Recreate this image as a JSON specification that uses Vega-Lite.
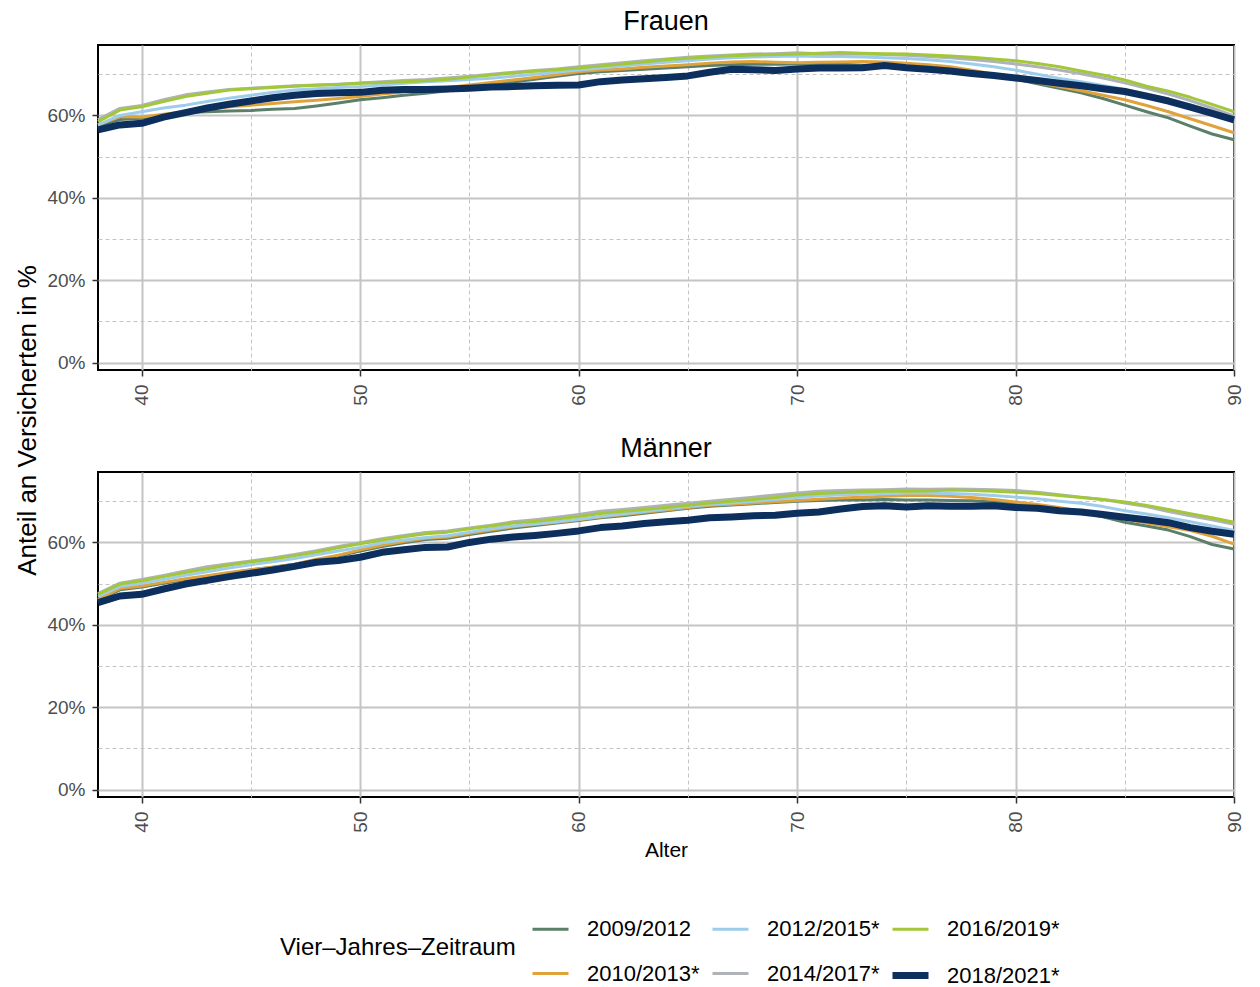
{
  "$schema": "https://vega.github.io/schema/vega-lite/v6.json",
  "padding": {"left": 13, "top": 7, "right": 20, "bottom": 4},
  "bounds": "flush",
  "spacing": 102,
  "config": {
    "font": "Liberation Sans",
    "view": {"stroke": "black", "strokeWidth": 2},
    "axis": {"gridColor": "#C4C4C4", "labelColor": "#4D4D4D", "labelFontSize": 19, "tickColor": "#333333", "tickSize": 6, "tickWidth": 1.5, "domain": false, "titleColor": "black", "titleFontWeight": "normal", "labelOverlap": false, "labelFlush": false}
  },
  "data": {"values": [
{"g":"Frauen","Alter":38,"2009/2012":57.3,"2010/2013*":57.7,"2012/2015*":57.7,"2014/2017*":59.0,"2016/2019*":58.5,"2018/2021*":56.5},
{"g":"Frauen","Alter":39,"2009/2012":59.0,"2010/2013*":59.7,"2012/2015*":60.0,"2014/2017*":61.7,"2016/2019*":61.3,"2018/2021*":57.7},
{"g":"Frauen","Alter":40,"2009/2012":59.3,"2010/2013*":59.6,"2012/2015*":60.9,"2014/2017*":62.4,"2016/2019*":62.1,"2018/2021*":58.1},
{"g":"Frauen","Alter":41,"2009/2012":60.1,"2010/2013*":60.3,"2012/2015*":61.8,"2014/2017*":63.8,"2016/2019*":63.4,"2018/2021*":59.6},
{"g":"Frauen","Alter":42,"2009/2012":60.7,"2010/2013*":60.9,"2012/2015*":62.5,"2014/2017*":65.0,"2016/2019*":64.6,"2018/2021*":60.7},
{"g":"Frauen","Alter":43,"2009/2012":60.9,"2010/2013*":61.5,"2012/2015*":63.4,"2014/2017*":65.7,"2016/2019*":65.4,"2018/2021*":61.8},
{"g":"Frauen","Alter":44,"2009/2012":61.1,"2010/2013*":62.1,"2012/2015*":64.2,"2014/2017*":66.3,"2016/2019*":66.2,"2018/2021*":62.7},
{"g":"Frauen","Alter":45,"2009/2012":61.2,"2010/2013*":62.5,"2012/2015*":64.9,"2014/2017*":66.6,"2016/2019*":66.5,"2018/2021*":63.5},
{"g":"Frauen","Alter":46,"2009/2012":61.5,"2010/2013*":62.9,"2012/2015*":65.6,"2014/2017*":66.9,"2016/2019*":66.8,"2018/2021*":64.3},
{"g":"Frauen","Alter":47,"2009/2012":61.7,"2010/2013*":63.3,"2012/2015*":66.2,"2014/2017*":67.2,"2016/2019*":67.1,"2018/2021*":64.9},
{"g":"Frauen","Alter":48,"2009/2012":62.3,"2010/2013*":63.7,"2012/2015*":66.5,"2014/2017*":67.4,"2016/2019*":67.3,"2018/2021*":65.3},
{"g":"Frauen","Alter":49,"2009/2012":63.0,"2010/2013*":64.1,"2012/2015*":66.8,"2014/2017*":67.6,"2016/2019*":67.5,"2018/2021*":65.5},
{"g":"Frauen","Alter":50,"2009/2012":63.8,"2010/2013*":64.6,"2012/2015*":67.0,"2014/2017*":67.9,"2016/2019*":67.8,"2018/2021*":65.6},
{"g":"Frauen","Alter":51,"2009/2012":64.3,"2010/2013*":65.2,"2012/2015*":67.4,"2014/2017*":68.2,"2016/2019*":68.0,"2018/2021*":66.1},
{"g":"Frauen","Alter":52,"2009/2012":64.9,"2010/2013*":65.7,"2012/2015*":67.8,"2014/2017*":68.5,"2016/2019*":68.2,"2018/2021*":66.3},
{"g":"Frauen","Alter":53,"2009/2012":65.4,"2010/2013*":66.2,"2012/2015*":68.2,"2014/2017*":68.7,"2016/2019*":68.4,"2018/2021*":66.3},
{"g":"Frauen","Alter":54,"2009/2012":66.0,"2010/2013*":66.8,"2012/2015*":68.4,"2014/2017*":69.1,"2016/2019*":68.8,"2018/2021*":66.4},
{"g":"Frauen","Alter":55,"2009/2012":66.7,"2010/2013*":67.4,"2012/2015*":68.7,"2014/2017*":69.5,"2016/2019*":69.3,"2018/2021*":66.6},
{"g":"Frauen","Alter":56,"2009/2012":67.4,"2010/2013*":68.0,"2012/2015*":69.0,"2014/2017*":70.0,"2016/2019*":69.8,"2018/2021*":66.9},
{"g":"Frauen","Alter":57,"2009/2012":68.1,"2010/2013*":68.6,"2012/2015*":69.5,"2014/2017*":70.5,"2016/2019*":70.3,"2018/2021*":67.0},
{"g":"Frauen","Alter":58,"2009/2012":68.8,"2010/2013*":69.2,"2012/2015*":70.0,"2014/2017*":70.9,"2016/2019*":70.7,"2018/2021*":67.2},
{"g":"Frauen","Alter":59,"2009/2012":69.5,"2010/2013*":69.9,"2012/2015*":70.5,"2014/2017*":71.3,"2016/2019*":71.1,"2018/2021*":67.3},
{"g":"Frauen","Alter":60,"2009/2012":70.2,"2010/2013*":70.6,"2012/2015*":71.0,"2014/2017*":71.8,"2016/2019*":71.5,"2018/2021*":67.4},
{"g":"Frauen","Alter":61,"2009/2012":70.6,"2010/2013*":71.0,"2012/2015*":71.5,"2014/2017*":72.3,"2016/2019*":72.0,"2018/2021*":68.2},
{"g":"Frauen","Alter":62,"2009/2012":70.9,"2010/2013*":71.3,"2012/2015*":72.0,"2014/2017*":72.8,"2016/2019*":72.5,"2018/2021*":68.6},
{"g":"Frauen","Alter":63,"2009/2012":71.2,"2010/2013*":71.7,"2012/2015*":72.5,"2014/2017*":73.3,"2016/2019*":73.0,"2018/2021*":68.9},
{"g":"Frauen","Alter":64,"2009/2012":71.5,"2010/2013*":72.0,"2012/2015*":72.9,"2014/2017*":73.7,"2016/2019*":73.5,"2018/2021*":69.2},
{"g":"Frauen","Alter":65,"2009/2012":71.8,"2010/2013*":72.3,"2012/2015*":73.3,"2014/2017*":74.1,"2016/2019*":73.9,"2018/2021*":69.6},
{"g":"Frauen","Alter":66,"2009/2012":72.1,"2010/2013*":72.7,"2012/2015*":73.7,"2014/2017*":74.4,"2016/2019*":74.2,"2018/2021*":70.5},
{"g":"Frauen","Alter":67,"2009/2012":72.3,"2010/2013*":73.0,"2012/2015*":74.0,"2014/2017*":74.7,"2016/2019*":74.5,"2018/2021*":71.2},
{"g":"Frauen","Alter":68,"2009/2012":72.4,"2010/2013*":73.1,"2012/2015*":74.2,"2014/2017*":74.9,"2016/2019*":74.7,"2018/2021*":71.1},
{"g":"Frauen","Alter":69,"2009/2012":72.4,"2010/2013*":72.9,"2012/2015*":74.3,"2014/2017*":75.0,"2016/2019*":74.8,"2018/2021*":70.9},
{"g":"Frauen","Alter":70,"2009/2012":72.5,"2010/2013*":72.8,"2012/2015*":74.4,"2014/2017*":75.2,"2016/2019*":74.9,"2018/2021*":71.3},
{"g":"Frauen","Alter":71,"2009/2012":72.5,"2010/2013*":72.9,"2012/2015*":74.3,"2014/2017*":75.0,"2016/2019*":75.1,"2018/2021*":71.5},
{"g":"Frauen","Alter":72,"2009/2012":72.4,"2010/2013*":73.0,"2012/2015*":74.3,"2014/2017*":75.0,"2016/2019*":75.3,"2018/2021*":71.5},
{"g":"Frauen","Alter":73,"2009/2012":72.2,"2010/2013*":73.1,"2012/2015*":74.2,"2014/2017*":74.9,"2016/2019*":75.1,"2018/2021*":71.6},
{"g":"Frauen","Alter":74,"2009/2012":72.0,"2010/2013*":73.0,"2012/2015*":74.0,"2014/2017*":74.8,"2016/2019*":75.0,"2018/2021*":72.1},
{"g":"Frauen","Alter":75,"2009/2012":71.7,"2010/2013*":72.7,"2012/2015*":73.8,"2014/2017*":74.6,"2016/2019*":74.9,"2018/2021*":71.6},
{"g":"Frauen","Alter":76,"2009/2012":71.3,"2010/2013*":72.3,"2012/2015*":73.5,"2014/2017*":74.3,"2016/2019*":74.7,"2018/2021*":71.2},
{"g":"Frauen","Alter":77,"2009/2012":70.9,"2010/2013*":71.8,"2012/2015*":73.1,"2014/2017*":74.0,"2016/2019*":74.4,"2018/2021*":70.8},
{"g":"Frauen","Alter":78,"2009/2012":70.3,"2010/2013*":71.0,"2012/2015*":72.5,"2014/2017*":73.6,"2016/2019*":74.1,"2018/2021*":70.2},
{"g":"Frauen","Alter":79,"2009/2012":69.6,"2010/2013*":70.0,"2012/2015*":71.8,"2014/2017*":73.1,"2016/2019*":73.7,"2018/2021*":69.7},
{"g":"Frauen","Alter":80,"2009/2012":68.8,"2010/2013*":69.0,"2012/2015*":71.0,"2014/2017*":72.5,"2016/2019*":73.3,"2018/2021*":69.1},
{"g":"Frauen","Alter":81,"2009/2012":67.7,"2010/2013*":68.0,"2012/2015*":70.0,"2014/2017*":71.8,"2016/2019*":72.6,"2018/2021*":68.5},
{"g":"Frauen","Alter":82,"2009/2012":66.6,"2010/2013*":67.0,"2012/2015*":69.0,"2014/2017*":71.0,"2016/2019*":71.8,"2018/2021*":67.8},
{"g":"Frauen","Alter":83,"2009/2012":65.5,"2010/2013*":66.0,"2012/2015*":68.2,"2014/2017*":70.1,"2016/2019*":70.8,"2018/2021*":67.2},
{"g":"Frauen","Alter":84,"2009/2012":64.1,"2010/2013*":64.9,"2012/2015*":67.3,"2014/2017*":69.1,"2016/2019*":69.8,"2018/2021*":66.5},
{"g":"Frauen","Alter":85,"2009/2012":62.5,"2010/2013*":63.8,"2012/2015*":66.3,"2014/2017*":67.9,"2016/2019*":68.6,"2018/2021*":65.8},
{"g":"Frauen","Alter":86,"2009/2012":60.9,"2010/2013*":62.4,"2012/2015*":65.2,"2014/2017*":66.6,"2016/2019*":67.1,"2018/2021*":64.7},
{"g":"Frauen","Alter":87,"2009/2012":59.4,"2010/2013*":60.9,"2012/2015*":64.0,"2014/2017*":65.2,"2016/2019*":65.9,"2018/2021*":63.5},
{"g":"Frauen","Alter":88,"2009/2012":57.4,"2010/2013*":59.2,"2012/2015*":62.6,"2014/2017*":63.6,"2016/2019*":64.4,"2018/2021*":62.0},
{"g":"Frauen","Alter":89,"2009/2012":55.5,"2010/2013*":57.5,"2012/2015*":61.0,"2014/2017*":61.8,"2016/2019*":62.7,"2018/2021*":60.5},
{"g":"Frauen","Alter":90,"2009/2012":54.1,"2010/2013*":55.8,"2012/2015*":59.4,"2014/2017*":59.9,"2016/2019*":60.9,"2018/2021*":58.9},
{"g":"Männer","Alter":38,"2009/2012":46.0,"2010/2013*":46.2,"2012/2015*":46.9,"2014/2017*":47.6,"2016/2019*":47.4,"2018/2021*":45.4},
{"g":"Männer","Alter":39,"2009/2012":48.5,"2010/2013*":48.8,"2012/2015*":49.3,"2014/2017*":50.1,"2016/2019*":49.9,"2018/2021*":47.0},
{"g":"Männer","Alter":40,"2009/2012":49.2,"2010/2013*":49.4,"2012/2015*":50.1,"2014/2017*":51.0,"2016/2019*":50.7,"2018/2021*":47.4},
{"g":"Männer","Alter":41,"2009/2012":50.1,"2010/2013*":50.3,"2012/2015*":51.0,"2014/2017*":52.0,"2016/2019*":51.7,"2018/2021*":48.7},
{"g":"Männer","Alter":42,"2009/2012":51.0,"2010/2013*":51.2,"2012/2015*":52.0,"2014/2017*":53.1,"2016/2019*":52.7,"2018/2021*":49.9},
{"g":"Männer","Alter":43,"2009/2012":51.8,"2010/2013*":51.9,"2012/2015*":52.9,"2014/2017*":54.1,"2016/2019*":53.6,"2018/2021*":50.8},
{"g":"Männer","Alter":44,"2009/2012":52.6,"2010/2013*":52.7,"2012/2015*":53.8,"2014/2017*":54.8,"2016/2019*":54.5,"2018/2021*":51.7},
{"g":"Männer","Alter":45,"2009/2012":53.3,"2010/2013*":53.4,"2012/2015*":54.6,"2014/2017*":55.5,"2016/2019*":55.3,"2018/2021*":52.5},
{"g":"Männer","Alter":46,"2009/2012":54.0,"2010/2013*":54.0,"2012/2015*":55.3,"2014/2017*":56.2,"2016/2019*":56.0,"2018/2021*":53.3},
{"g":"Männer","Alter":47,"2009/2012":54.7,"2010/2013*":54.7,"2012/2015*":56.1,"2014/2017*":57.1,"2016/2019*":56.8,"2018/2021*":54.2},
{"g":"Männer","Alter":48,"2009/2012":55.7,"2010/2013*":55.9,"2012/2015*":57.0,"2014/2017*":58.0,"2016/2019*":57.7,"2018/2021*":55.2},
{"g":"Männer","Alter":49,"2009/2012":56.7,"2010/2013*":56.9,"2012/2015*":57.9,"2014/2017*":59.0,"2016/2019*":58.7,"2018/2021*":55.6},
{"g":"Männer","Alter":50,"2009/2012":57.9,"2010/2013*":58.2,"2012/2015*":58.8,"2014/2017*":59.9,"2016/2019*":59.7,"2018/2021*":56.4},
{"g":"Männer","Alter":51,"2009/2012":59.0,"2010/2013*":59.3,"2012/2015*":59.9,"2014/2017*":60.9,"2016/2019*":60.6,"2018/2021*":57.6},
{"g":"Männer","Alter":52,"2009/2012":59.9,"2010/2013*":60.2,"2012/2015*":60.6,"2014/2017*":61.7,"2016/2019*":61.4,"2018/2021*":58.2},
{"g":"Männer","Alter":53,"2009/2012":60.7,"2010/2013*":61.0,"2012/2015*":61.2,"2014/2017*":62.4,"2016/2019*":62.1,"2018/2021*":58.8},
{"g":"Männer","Alter":54,"2009/2012":61.0,"2010/2013*":61.3,"2012/2015*":61.6,"2014/2017*":62.8,"2016/2019*":62.5,"2018/2021*":58.9},
{"g":"Männer","Alter":55,"2009/2012":61.9,"2010/2013*":62.2,"2012/2015*":62.5,"2014/2017*":63.5,"2016/2019*":63.3,"2018/2021*":60.0},
{"g":"Männer","Alter":56,"2009/2012":62.7,"2010/2013*":63.0,"2012/2015*":63.3,"2014/2017*":64.2,"2016/2019*":64.0,"2018/2021*":60.8},
{"g":"Männer","Alter":57,"2009/2012":63.5,"2010/2013*":63.8,"2012/2015*":64.0,"2014/2017*":65.0,"2016/2019*":64.7,"2018/2021*":61.3},
{"g":"Männer","Alter":58,"2009/2012":64.1,"2010/2013*":64.4,"2012/2015*":64.5,"2014/2017*":65.5,"2016/2019*":65.1,"2018/2021*":61.7},
{"g":"Männer","Alter":59,"2009/2012":64.7,"2010/2013*":64.9,"2012/2015*":65.0,"2014/2017*":66.1,"2016/2019*":65.7,"2018/2021*":62.2},
{"g":"Männer","Alter":60,"2009/2012":65.3,"2010/2013*":65.5,"2012/2015*":65.6,"2014/2017*":66.8,"2016/2019*":66.3,"2018/2021*":62.8},
{"g":"Männer","Alter":61,"2009/2012":66.0,"2010/2013*":66.2,"2012/2015*":66.3,"2014/2017*":67.6,"2016/2019*":67.0,"2018/2021*":63.6},
{"g":"Männer","Alter":62,"2009/2012":66.5,"2010/2013*":66.7,"2012/2015*":66.9,"2014/2017*":68.0,"2016/2019*":67.5,"2018/2021*":64.0},
{"g":"Männer","Alter":63,"2009/2012":67.1,"2010/2013*":67.3,"2012/2015*":67.5,"2014/2017*":68.5,"2016/2019*":68.0,"2018/2021*":64.6},
{"g":"Männer","Alter":64,"2009/2012":67.7,"2010/2013*":67.9,"2012/2015*":68.1,"2014/2017*":69.0,"2016/2019*":68.5,"2018/2021*":65.0},
{"g":"Männer","Alter":65,"2009/2012":68.3,"2010/2013*":68.5,"2012/2015*":68.7,"2014/2017*":69.5,"2016/2019*":69.0,"2018/2021*":65.4},
{"g":"Männer","Alter":66,"2009/2012":68.8,"2010/2013*":69.0,"2012/2015*":69.2,"2014/2017*":70.0,"2016/2019*":69.6,"2018/2021*":66.0},
{"g":"Männer","Alter":67,"2009/2012":69.1,"2010/2013*":69.3,"2012/2015*":69.6,"2014/2017*":70.5,"2016/2019*":70.0,"2018/2021*":66.2},
{"g":"Männer","Alter":68,"2009/2012":69.4,"2010/2013*":69.6,"2012/2015*":70.0,"2014/2017*":71.0,"2016/2019*":70.4,"2018/2021*":66.5},
{"g":"Männer","Alter":69,"2009/2012":69.7,"2010/2013*":69.9,"2012/2015*":70.4,"2014/2017*":71.5,"2016/2019*":70.9,"2018/2021*":66.6},
{"g":"Männer","Alter":70,"2009/2012":70.0,"2010/2013*":70.2,"2012/2015*":70.9,"2014/2017*":72.0,"2016/2019*":71.5,"2018/2021*":67.1},
{"g":"Männer","Alter":71,"2009/2012":70.2,"2010/2013*":70.5,"2012/2015*":71.3,"2014/2017*":72.4,"2016/2019*":71.9,"2018/2021*":67.4},
{"g":"Männer","Alter":72,"2009/2012":70.3,"2010/2013*":70.8,"2012/2015*":71.6,"2014/2017*":72.6,"2016/2019*":72.1,"2018/2021*":68.1},
{"g":"Männer","Alter":73,"2009/2012":70.3,"2010/2013*":71.0,"2012/2015*":71.7,"2014/2017*":72.7,"2016/2019*":72.3,"2018/2021*":68.7},
{"g":"Männer","Alter":74,"2009/2012":70.4,"2010/2013*":71.2,"2012/2015*":71.8,"2014/2017*":72.8,"2016/2019*":72.4,"2018/2021*":68.9},
{"g":"Männer","Alter":75,"2009/2012":70.3,"2010/2013*":71.4,"2012/2015*":72.0,"2014/2017*":73.0,"2016/2019*":72.4,"2018/2021*":68.6},
{"g":"Männer","Alter":76,"2009/2012":70.3,"2010/2013*":71.4,"2012/2015*":72.0,"2014/2017*":72.9,"2016/2019*":72.5,"2018/2021*":68.9},
{"g":"Männer","Alter":77,"2009/2012":70.2,"2010/2013*":71.2,"2012/2015*":71.9,"2014/2017*":73.0,"2016/2019*":72.7,"2018/2021*":68.8},
{"g":"Männer","Alter":78,"2009/2012":70.1,"2010/2013*":70.9,"2012/2015*":71.7,"2014/2017*":72.9,"2016/2019*":72.6,"2018/2021*":68.8},
{"g":"Männer","Alter":79,"2009/2012":69.8,"2010/2013*":70.4,"2012/2015*":71.4,"2014/2017*":72.8,"2016/2019*":72.4,"2018/2021*":68.9},
{"g":"Männer","Alter":80,"2009/2012":69.4,"2010/2013*":69.8,"2012/2015*":71.0,"2014/2017*":72.6,"2016/2019*":72.2,"2018/2021*":68.5},
{"g":"Männer","Alter":81,"2009/2012":68.8,"2010/2013*":69.2,"2012/2015*":70.6,"2014/2017*":72.2,"2016/2019*":71.9,"2018/2021*":68.3},
{"g":"Männer","Alter":82,"2009/2012":68.1,"2010/2013*":68.5,"2012/2015*":70.0,"2014/2017*":71.6,"2016/2019*":71.4,"2018/2021*":67.7},
{"g":"Männer","Alter":83,"2009/2012":67.3,"2010/2013*":67.6,"2012/2015*":69.5,"2014/2017*":71.0,"2016/2019*":70.9,"2018/2021*":67.4},
{"g":"Männer","Alter":84,"2009/2012":66.2,"2010/2013*":66.7,"2012/2015*":68.7,"2014/2017*":70.4,"2016/2019*":70.4,"2018/2021*":66.8},
{"g":"Männer","Alter":85,"2009/2012":64.9,"2010/2013*":65.7,"2012/2015*":67.7,"2014/2017*":69.6,"2016/2019*":69.8,"2018/2021*":66.1},
{"g":"Männer","Alter":86,"2009/2012":64.0,"2010/2013*":64.7,"2012/2015*":66.9,"2014/2017*":68.7,"2016/2019*":69.0,"2018/2021*":65.5},
{"g":"Männer","Alter":87,"2009/2012":63.0,"2010/2013*":63.8,"2012/2015*":66.0,"2014/2017*":67.5,"2016/2019*":68.0,"2018/2021*":64.8},
{"g":"Männer","Alter":88,"2009/2012":61.4,"2010/2013*":62.9,"2012/2015*":65.0,"2014/2017*":66.5,"2016/2019*":67.0,"2018/2021*":63.6},
{"g":"Männer","Alter":89,"2009/2012":59.5,"2010/2013*":61.5,"2012/2015*":64.0,"2014/2017*":65.5,"2016/2019*":66.0,"2018/2021*":62.7},
{"g":"Männer","Alter":90,"2009/2012":58.4,"2010/2013*":59.6,"2012/2015*":62.9,"2014/2017*":64.4,"2016/2019*":64.9,"2018/2021*":62.0}
  ]},
  "vconcat": [
    {
      "width": 1136, "height": 325,
      "title": {"text": "Frauen", "fontSize": 27, "fontWeight": "normal", "color": "black", "anchor": "middle", "offset": 9},
      "transform": [
        {"filter": "datum.g === 'Frauen'"},
        {"fold": ["2009/2012", "2010/2013*", "2012/2015*", "2014/2017*", "2016/2019*", "2018/2021*"], "as": ["Zeitraum", "Anteil"]}
      ],
      "mark": {"type": "line", "strokeJoin": "round"},
      "encoding": {
        "x": {"field": "Alter", "type": "quantitative", "scale": {"domain": [38, 90], "nice": false, "zero": false},
          "axis": {"title": null, "values": [40, 45, 50, 55, 60, 65, 70, 75, 80, 85, 90], "labelAngle": 270, "labelPadding": 8,
            "labelExpr": "datum.value % 10 === 0 ? datum.label : ''",
            "gridDash": {"condition": {"test": "datum.value % 10 === 5", "value": [4, 3]}, "value": []},
            "gridWidth": {"condition": {"test": "datum.value % 10 === 5", "value": 1}, "value": 2},
            "tickOpacity": {"condition": {"test": "datum.value % 10 === 5", "value": 0}, "value": 1}}},
        "y": {"field": "Anteil", "type": "quantitative", "scale": {"domain": [-1.8, 77.1], "nice": false, "zero": false},
          "axis": {"title": "Anteil an Versicherten in %", "titleFontSize": 26, "titleY": 375, "titlePadding": 6, "values": [0, 10, 20, 30, 40, 50, 60, 70], "labelPadding": 7,
            "labelExpr": "datum.value % 20 === 0 ? datum.value + '%' : ''",
            "gridDash": {"condition": {"test": "datum.value % 20 === 10", "value": [4, 3]}, "value": []},
            "gridWidth": {"condition": {"test": "datum.value % 20 === 10", "value": 1}, "value": 2},
            "tickOpacity": {"condition": {"test": "datum.value % 20 === 10", "value": 0}, "value": 1}}},
        "color": {"field": "Zeitraum", "type": "nominal",
          "scale": {"domain": ["2009/2012", "2012/2015*", "2016/2019*", "2010/2013*", "2014/2017*", "2018/2021*"],
                    "range": ["#5B7F68", "#9DCDEA", "#A3C73A", "#E0A23B", "#AFB2B6", "#0C2F5E"]},
          "legend": {"orient": "none", "legendX": 182, "legendY": 862, "columns": 3, "gridAlign": "all", "direction": "horizontal", "title": "Vier–Jahres–Zeitraum", "titleOrient": "left", "titleFontSize": 24, "titleFontWeight": "normal", "titleColor": "black", "titlePadding": 13, "titleLimit": 500, "titleAnchor": "middle", "titleBaseline": "middle", "labelFontSize": 22, "labelColor": "black", "labelOffset": 15, "labelLimit": 300, "symbolType": "stroke", "symbolSize": 1296, "symbolStrokeWidth": 4, "columnPadding": -2, "rowPadding": 11}},
        "strokeWidth": {"field": "Zeitraum", "type": "nominal",
          "scale": {"type": "ordinal", "domain": ["2009/2012", "2012/2015*", "2016/2019*", "2010/2013*", "2014/2017*", "2018/2021*"], "range": [3, 3, 3, 3, 3, 7]},
          "legend": {"orient": "none", "legendX": 182, "legendY": 862, "columns": 3, "gridAlign": "all", "direction": "horizontal", "title": "Vier–Jahres–Zeitraum", "titleOrient": "left", "titleFontSize": 24, "titleFontWeight": "normal", "titleColor": "black", "titlePadding": 13, "titleLimit": 500, "titleAnchor": "middle", "titleBaseline": "middle", "labelFontSize": 22, "labelColor": "black", "labelOffset": 15, "labelLimit": 300, "symbolType": "stroke", "symbolSize": 1296, "columnPadding": -2, "rowPadding": 11}}
      }
    },
    {
      "width": 1136, "height": 325,
      "title": {"text": "Männer", "fontSize": 27, "fontWeight": "normal", "color": "black", "anchor": "middle", "offset": 9},
      "transform": [
        {"filter": "datum.g === 'Männer'"},
        {"fold": ["2009/2012", "2010/2013*", "2012/2015*", "2014/2017*", "2016/2019*", "2018/2021*"], "as": ["Zeitraum", "Anteil"]}
      ],
      "mark": {"type": "line", "strokeJoin": "round"},
      "encoding": {
        "x": {"field": "Alter", "type": "quantitative", "scale": {"domain": [38, 90], "nice": false, "zero": false},
          "axis": {"title": "Alter", "titleFontSize": 21, "titlePadding": 7, "values": [40, 45, 50, 55, 60, 65, 70, 75, 80, 85, 90], "labelAngle": 270, "labelPadding": 8,
            "labelExpr": "datum.value % 10 === 0 ? datum.label : ''",
            "gridDash": {"condition": {"test": "datum.value % 10 === 5", "value": [4, 3]}, "value": []},
            "gridWidth": {"condition": {"test": "datum.value % 10 === 5", "value": 1}, "value": 2},
            "tickOpacity": {"condition": {"test": "datum.value % 10 === 5", "value": 0}, "value": 1}}},
        "y": {"field": "Anteil", "type": "quantitative", "scale": {"domain": [-1.8, 77.1], "nice": false, "zero": false},
          "axis": {"title": null, "values": [0, 10, 20, 30, 40, 50, 60, 70], "labelPadding": 7,
            "labelExpr": "datum.value % 20 === 0 ? datum.value + '%' : ''",
            "gridDash": {"condition": {"test": "datum.value % 20 === 10", "value": [4, 3]}, "value": []},
            "gridWidth": {"condition": {"test": "datum.value % 20 === 10", "value": 1}, "value": 2},
            "tickOpacity": {"condition": {"test": "datum.value % 20 === 10", "value": 0}, "value": 1}}},
        "color": {"field": "Zeitraum", "type": "nominal",
          "scale": {"domain": ["2009/2012", "2012/2015*", "2016/2019*", "2010/2013*", "2014/2017*", "2018/2021*"],
                    "range": ["#5B7F68", "#9DCDEA", "#A3C73A", "#E0A23B", "#AFB2B6", "#0C2F5E"]}},
        "strokeWidth": {"field": "Zeitraum", "type": "nominal",
          "scale": {"type": "ordinal", "domain": ["2009/2012", "2012/2015*", "2016/2019*", "2010/2013*", "2014/2017*", "2018/2021*"], "range": [3, 3, 3, 3, 3, 7]}}
      }
    }
  ]
}
